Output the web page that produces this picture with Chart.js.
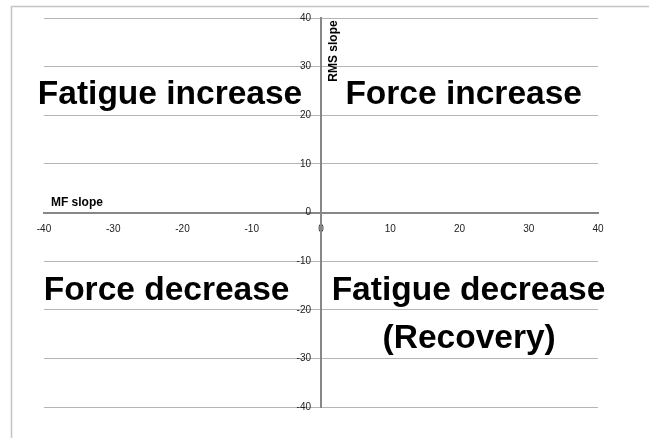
<!DOCTYPE html>
<html>
<head>
<meta charset="utf-8">
<script src="https://cdn.jsdelivr.net/npm/chart.js@4/dist/chart.umd.min.js"></script>
<style>
  html, body { margin: 0; padding: 0; background: #fff; }
  canvas { display: block; }
</style>
</head>
<body>
<canvas id="chart-quadrant" width="649" height="438"></canvas>
<script>
// axis ticks
var xTicks = [-40, -30, -20, -10, 0, 10, 20, 30, 40];
var yTicks = [-40, -30, -20, -10, 0, 10, 20, 30, 40];
// axis titles
var xTitle = 'MF slope';
var yTitle = 'RMS slope';
// quadrant captions
var quadrantTexts = ['Fatigue increase', 'Force increase', 'Force decrease', 'Fatigue decrease', '(Recovery)'];
// no measured points in this chart
var points = [];

var FONT = "'Liberation Sans', Arial, sans-serif";

// captions anchored in data units (center, baseline)
var captionAnchors = [
  { x: -21.8, y: 22.4 },
  { x: 20.6, y: 22.4 },
  { x: -22.3, y: -17.9 },
  { x: 21.3, y: -17.9 },
  { x: 21.4, y: -27.8 }
];

var decorPlugin = {
  id: 'decor',
  beforeDraw: function (chart) {
    var ctx = chart.ctx;
    //y labels sit left of the crossing axis (no padding is applied for object positions)
    var items = chart.scales.y.getLabelItems();
    items.forEach(function (it) {
      if (!it._shifted) { it.options.translation[0] -= 10; it._shifted = true; }
    });
    ctx.save();
    //Frame
    ctx.strokeStyle = '#c4c4c4';
    ctx.lineWidth = 1.5;
    ctx.beginPath();
    ctx.moveTo(649, 6.5);
    ctx.lineTo(11.5, 6.5);
    ctx.lineTo(11.5, 438);
    ctx.stroke();
    ctx.restore();
  },
  afterDraw: function (chart) {
    var ctx = chart.ctx;
    var xs = chart.scales.x, ys = chart.scales.y;
    ctx.save();
    //Quadrant captions
    ctx.fillStyle = '#000';
    ctx.font = 'bold 33.5px ' + FONT;
    ctx.textAlign = 'center';
    ctx.textBaseline = 'alphabetic';
    quadrantTexts.forEach(function (t, i) {
      var a = captionAnchors[i];
      ctx.fillText(t, xs.getPixelForValue(a.x), ys.getPixelForValue(a.y));
    });
    //Axis titles
    ctx.font = 'bold 12px ' + FONT;
    ctx.textAlign = 'left';
    ctx.fillText(xTitle, xs.getPixelForValue(-39), ys.getPixelForValue(1.4));
    ctx.translate(xs.getPixelForValue(2.3), ys.getPixelForValue(26.9));
    ctx.rotate(-Math.PI / 2);
    ctx.fillText(yTitle, 0, 0);
    ctx.restore();
  }
};

const config = {
  type: 'scatter',
  data: {
    datasets: [{ label: 'data', data: points, pointRadius: 3, backgroundColor: '#000' }]
  },
  options: {
    responsive: false,
    animation: false,
    layout: { padding: { left: 44, right: 51, top: 18, bottom: 31 } },
    plugins: { legend: { display: false }, tooltip: { enabled: false } },
    scales: {
      x: {
        type: 'linear',
        min: -40, max: 40,
        position: { y: 0 },
        afterBuildTicks: function (s) { s.ticks = xTicks.map(function (v) { return { value: v }; }); },
        grid: { color: 'rgba(0,0,0,0)', drawTicks: false },
        border: { display: true, color: '#878787', width: 2 },
        ticks: { color: '#222', padding: 11, maxRotation: 0, font: { size: 10, family: FONT } }
      },
      y: {
        type: 'linear',
        min: -40, max: 40,
        position: { x: 0 },
        afterBuildTicks: function (s) { s.ticks = yTicks.map(function (v) { return { value: v }; }); },
        grid: { color: '#b4b4b4', lineWidth: 1, drawTicks: false },
        border: { display: true, color: '#878787', width: 2 },
        ticks: { color: '#222', padding: 11, font: { size: 10, family: FONT } }
      }
    }
  },
  plugins: [decorPlugin]
};

const myChart = new Chart(document.getElementById('chart-quadrant'), config);
</script>
</body>
</html>
